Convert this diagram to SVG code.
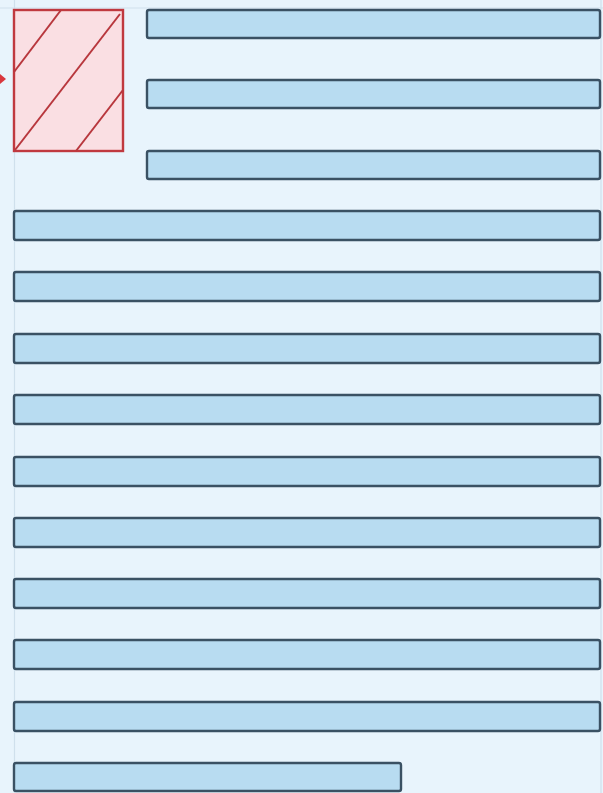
<svg xmlns="http://www.w3.org/2000/svg" width="603" height="793" viewBox="0 0 603 793">
<defs>
<style>
.bar{fill:#b8dcf1;stroke:#3a5163;stroke-width:2.4}
.guide{stroke:#cfe0ec;stroke-width:1.2;fill:none}
.hatch{stroke:#b8373d;stroke-width:2;fill:none}
</style>
</defs>
<rect x="0" y="0" width="603" height="793" fill="#e8f4fc"/>
<g id="guides">
<line class="guide" x1="14.5" y1="0" x2="14.5" y2="793"/>
<line class="guide" x1="0" y1="8" x2="603" y2="8"/>
<line class="guide" x1="601" y1="0" x2="601" y2="793"/>
</g>
<g id="marker-left">
<polygon points="0,74 6,79 0,84" fill="#d9383e"/>
</g>
<g id="image-box">
<rect x="14" y="10" width="109" height="141" fill="#fadfe3" stroke="#c0393f" stroke-width="2.4"/>
<line class="hatch" x1="61" y1="10" x2="14" y2="72"/>
<line class="hatch" x1="120" y1="14" x2="15" y2="150"/>
<line class="hatch" x1="123" y1="90" x2="76" y2="151"/>
</g>
<g id="lines">
<rect id="line1" class="bar" x="147" y="10" width="453" height="28" rx="2"/>
<rect id="line2" class="bar" x="147" y="80" width="453" height="28" rx="2"/>
<rect id="line3" class="bar" x="147" y="151" width="453" height="28" rx="2"/>
<rect id="line4" class="bar" x="14" y="211" width="586" height="29" rx="2"/>
<rect id="line5" class="bar" x="14" y="272" width="586" height="29" rx="2"/>
<rect id="line6" class="bar" x="14" y="334" width="586" height="29" rx="2"/>
<rect id="line7" class="bar" x="14" y="395" width="586" height="29" rx="2"/>
<rect id="line8" class="bar" x="14" y="457" width="586" height="29" rx="2"/>
<rect id="line9" class="bar" x="14" y="518" width="586" height="29" rx="2"/>
<rect id="line10" class="bar" x="14" y="579" width="586" height="29" rx="2"/>
<rect id="line11" class="bar" x="14" y="640" width="586" height="29" rx="2"/>
<rect id="line12" class="bar" x="14" y="702" width="586" height="29" rx="2"/>
<rect id="line13" class="bar" x="14" y="763" width="387" height="28" rx="2"/>
</g>
</svg>
